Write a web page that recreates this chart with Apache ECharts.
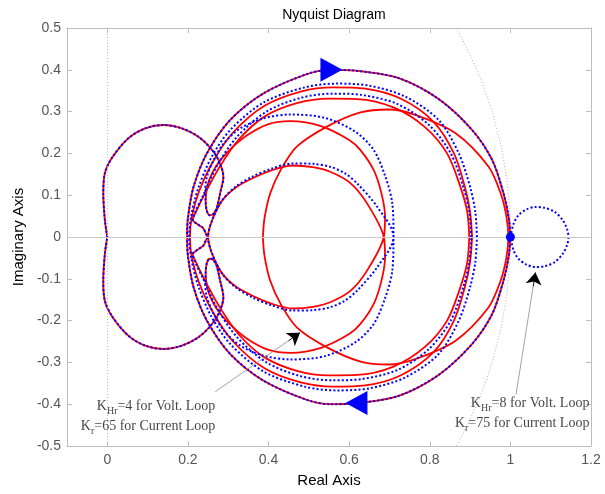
<!DOCTYPE html>
<html><head><meta charset="utf-8">
<script src="https://cdn.jsdelivr.net/npm/echarts@6/dist/echarts.min.js"></script>
<style>html,body{margin:0;padding:0;background:#fff}#c{width:605px;height:494px}</style>
</head><body><div id="c"></div>
<script>
// ---- tick labels ----
const xTicks = [0, 0.2, 0.4, 0.6, 0.8, 1, 1.2];
const yTicks = [-0.5, -0.4, -0.3, -0.2, -0.1, 0, 0.1, 0.2, 0.3, 0.4, 0.5];

// ---- curves (Real, Imag) ----
// outer loop (shared by both responses)
const outerLoop = [[1.0,0],[0.996,0.045],[0.983,0.104],[0.955,0.184],[0.905,0.256],[0.822,0.33],[0.723,0.38],[0.615,0.398],[0.553,0.4],[0.496,0.39],[0.388,0.344],[0.305,0.28],[0.247,0.2],[0.214,0.12],[0.2,0.045],[0.198,0],
  [0.2,-0.045],[0.214,-0.12],[0.247,-0.2],[0.305,-0.28],[0.388,-0.344],[0.496,-0.39],[0.553,-0.4],[0.615,-0.398],[0.723,-0.38],[0.822,-0.33],[0.905,-0.256],[0.955,-0.184],[0.983,-0.104],[0.996,-0.045],[1.0,0]];

// left "bean" lobe with its narrow tip (shared)
const beanUpper = [[0,0],[-0.006,0.04],[-0.01,0.105],[-0.006,0.153],[0.012,0.19],[0.052,0.236],[0.094,0.26],[0.139,0.268],[0.185,0.26],[0.226,0.24],[0.256,0.213],[0.276,0.184],[0.288,0.144],[0.28,0.105],[0.271,0.068],[0.262,0.054],[0.254,0.052],[0.247,0.062],[0.244,0.085]];
const beanLower = [[0.244,-0.085],[0.247,-0.062],[0.254,-0.052],[0.262,-0.054],[0.271,-0.068],[0.28,-0.105],[0.288,-0.144],[0.276,-0.184],[0.256,-0.213],[0.226,-0.24],[0.185,-0.26],[0.139,-0.268],[0.094,-0.26],[0.052,-0.236],[0.012,-0.19],[-0.006,-0.153],[-0.01,-0.105],[-0.006,-0.04],[0,0]];

// red (solid) response
const redB = [[0.905,0],[0.9,0.06],[0.887,0.12],[0.86,0.2],[0.81,0.275],[0.73,0.33],[0.64,0.355],[0.56,0.358],[0.48,0.348],[0.39,0.314],[0.312,0.25],[0.262,0.18],[0.228,0.11],[0.21,0.05],[0.205,0],
  [0.21,-0.05],[0.228,-0.11],[0.262,-0.18],[0.312,-0.25],[0.39,-0.314],[0.48,-0.348],[0.56,-0.358],[0.64,-0.355],[0.73,-0.33],[0.81,-0.275],[0.86,-0.2],[0.887,-0.12],[0.9,-0.06],[0.905,0]];
const redC = [[0.898,0],[0.893,0.06],[0.876,0.12],[0.843,0.2],[0.788,0.263],[0.71,0.31],[0.62,0.33],[0.55,0.331],[0.47,0.32],[0.39,0.288],[0.325,0.232],[0.277,0.165],[0.24,0.1],[0.22,0.06],[0.212,0.041],[0.226,0.029],[0.238,0.021],[0.246,0.005],[0.25,0],
  [0.246,-0.005],[0.238,-0.021],[0.226,-0.029],[0.212,-0.041],[0.22,-0.06],[0.24,-0.1],[0.277,-0.165],[0.325,-0.232],[0.39,-0.288],[0.47,-0.32],[0.55,-0.331],[0.62,-0.33],[0.71,-0.31],[0.788,-0.263],[0.843,-0.2],[0.876,-0.12],[0.893,-0.06],[0.898,0]];
const redD = [[0.386,0],[0.39,0.045],[0.404,0.104],[0.43,0.16],[0.47,0.216],[0.545,0.264],[0.628,0.298],[0.698,0.305],[0.764,0.292],[0.864,0.248],[0.946,0.168],[0.976,0.104],[0.99,0.05],[0.995,0],
  [0.99,-0.05],[0.976,-0.104],[0.946,-0.168],[0.864,-0.248],[0.764,-0.292],[0.698,-0.305],[0.628,-0.298],[0.545,-0.264],[0.47,-0.216],[0.43,-0.16],[0.404,-0.104],[0.39,-0.045],[0.386,0]];
const redEUpper = [[0.246,0.11],[0.252,0.135],[0.27,0.17],[0.3,0.205],[0.345,0.242],[0.4,0.27],[0.455,0.277],[0.53,0.265],[0.6,0.232],[0.628,0.208],[0.661,0.16],[0.68,0.105],[0.689,0.049],[0.686,0]];
const redFLower = [[0.644,-0.081],[0.603,-0.129],[0.553,-0.156],[0.51,-0.167],[0.46,-0.171],[0.409,-0.16],[0.359,-0.14],[0.318,-0.118],[0.285,-0.087],[0.26,-0.04],[0.25,0]];
const redFUpper = [[0.26,0.04],[0.285,0.087],[0.318,0.118],[0.359,0.14],[0.409,0.16],[0.46,0.171],[0.51,0.167],[0.553,0.156],[0.603,0.129],[0.644,0.081],[0.686,0]];
const redELower = [[0.689,-0.049],[0.68,-0.105],[0.661,-0.16],[0.628,-0.208],[0.6,-0.232],[0.53,-0.265],[0.455,-0.277],[0.4,-0.27],[0.345,-0.242],[0.3,-0.205],[0.27,-0.17],[0.252,-0.135],[0.246,-0.11]];

// blue (dotted) response
const blueB = [[0.917,0],[0.913,0.06],[0.9,0.12],[0.872,0.2],[0.822,0.28],[0.739,0.336],[0.65,0.362],[0.57,0.367],[0.49,0.358],[0.388,0.322],[0.305,0.256],[0.258,0.19],[0.225,0.115],[0.208,0.05],[0.203,0],
  [0.208,-0.05],[0.225,-0.115],[0.258,-0.19],[0.305,-0.256],[0.388,-0.322],[0.49,-0.358],[0.57,-0.367],[0.65,-0.362],[0.739,-0.336],[0.822,-0.28],[0.872,-0.2],[0.9,-0.12],[0.913,-0.06],[0.917,0]];
const blueC = [[0.903,0],[0.898,0.06],[0.883,0.12],[0.852,0.2],[0.798,0.268],[0.72,0.318],[0.63,0.34],[0.56,0.343],[0.48,0.333],[0.395,0.3],[0.322,0.24],[0.272,0.17],[0.238,0.1],[0.218,0.06],[0.212,0.041],[0.226,0.029],[0.238,0.021],[0.246,0.005],[0.25,0],
  [0.246,-0.005],[0.238,-0.021],[0.226,-0.029],[0.212,-0.041],[0.218,-0.06],[0.238,-0.1],[0.272,-0.17],[0.322,-0.24],[0.395,-0.3],[0.48,-0.333],[0.56,-0.343],[0.63,-0.34],[0.72,-0.318],[0.798,-0.268],[0.852,-0.2],[0.883,-0.12],[0.898,-0.06],[0.903,0]];
const blueEUpper = [[0.243,0.11],[0.247,0.144],[0.264,0.184],[0.289,0.224],[0.33,0.26],[0.388,0.284],[0.454,0.293],[0.54,0.285],[0.615,0.252],[0.661,0.208],[0.69,0.144],[0.707,0.081],[0.71,0]];
const blueFLower = [[0.669,-0.073],[0.62,-0.128],[0.59,-0.152],[0.553,-0.168],[0.51,-0.175],[0.46,-0.176],[0.409,-0.164],[0.359,-0.144],[0.318,-0.12],[0.285,-0.088],[0.26,-0.04],[0.25,0]];
const blueFUpper = [[0.26,0.04],[0.285,0.088],[0.318,0.12],[0.359,0.144],[0.409,0.164],[0.46,0.176],[0.51,0.175],[0.553,0.168],[0.59,0.152],[0.62,0.128],[0.669,0.073],[0.71,0]];
const blueELower = [[0.707,-0.081],[0.69,-0.144],[0.661,-0.208],[0.615,-0.252],[0.54,-0.285],[0.454,-0.293],[0.388,-0.284],[0.33,-0.26],[0.289,-0.224],[0.264,-0.184],[0.247,-0.144],[0.243,-0.11]];
const blueSmall = [[1.0,0],[1.008,0.032],[1.02,0.052],[1.04,0.066],[1.062,0.072],[1.085,0.07],[1.11,0.06],[1.13,0.04],[1.141,0.018],[1.144,0],[1.141,-0.018],[1.13,-0.04],[1.11,-0.06],[1.085,-0.07],[1.062,-0.072],[1.04,-0.066],[1.02,-0.052],[1.008,-0.032],[1.0,0]];

// unit-circle grid arc (dotted)
const unitArc = [[0.866,0.5],[0.906,0.423],[0.94,0.342],[0.966,0.259],[0.985,0.174],[0.996,0.087],[1,0],[0.996,-0.087],[0.985,-0.174],[0.966,-0.259],[0.94,-0.342],[0.906,-0.423],[0.866,-0.5]];

// markers
const criticalPoint = [[1, 0]];
const arrowRight = [[0.556, 0.4]];
const arrowLeft = [[0.618, -0.397]];

// annotations
const noteLeft = {pos: [0.268, -0.43], kh: 'Hr', khv: '4', kr: '65'};
const noteRight = {pos: [1.196, -0.421], kh: 'Hr', khv: '8', kr: '75'};
const pointerLeft = [[0.268, -0.37], [0.478, -0.229]];
const pointerRight = [[1.014, -0.377], [1.062, -0.085]];
const headLeft = [[0.45, -0.248], [0.478, -0.229]];
const headRight = [[1.057, -0.118], [1.062, -0.085]];

const redInner = [].concat(beanUpper, redEUpper, redFLower, redFUpper, redELower, beanLower);
const blueInner = [].concat(beanUpper, blueEUpper, blueFLower, blueFUpper, blueELower, beanLower);

const RED = '#ff0000', BLUE = '#0000ff';
const frame = '#bdbdbd';
const fmt = v => String(Math.round(v * 10) / 10);

function redLine(d) {
  return {type: 'line', data: d, showSymbol: false, smooth: 0.3, silent: true, z: 3,
    lineStyle: {color: RED, width: 1.8}};
}
function blueLine(d) {
  return {type: 'line', data: d, showSymbol: false, smooth: 0.3, silent: true, z: 4,
    lineStyle: {color: BLUE, width: 2, type: [2, 2.2], cap: 'butt'}};
}
function note(n) {
  return '{t|K}{s|' + n.kh + '}{t|=' + n.khv + ' for Volt. Loop}\n{t|K}{s|r}{t|=' + n.kr + ' for Current Loop}';
}
const rich = {
  t: {fontFamily: 'Liberation Serif', fontSize: 14, color: '#111', lineHeight: 20},
  s: {fontFamily: 'Liberation Serif', fontSize: 10, color: '#111', lineHeight: 9, verticalAlign: 'bottom'}
};

const axisCommon = {
  type: 'value', splitLine: {show: false},
  axisLine: {show: true, onZero: false, lineStyle: {color: frame, width: 1}},
};

const chart = echarts.init(document.getElementById('c'), null, {renderer: 'canvas'});
chart.setOption({
  animation: false,
  backgroundColor: '#fff',
  title: {text: 'Nyquist Diagram', left: 329, top: 3, textAlign: 'center',
    textStyle: {fontFamily: 'Liberation Sans', fontSize: 14, fontWeight: 'normal', color: '#000'}},
  grid: {left: 67, right: 14, top: 28, bottom: 48, containLabel: false},
  xAxis: [
    Object.assign({}, axisCommon, {position: 'bottom', min: -0.1, max: 1.2,
      name: 'Real Axis', nameLocation: 'middle', nameGap: 27,
      nameTextStyle: {fontFamily: 'Liberation Sans', fontSize: 15, color: '#000'},
      axisTick: {show: true, inside: true, length: 5, customValues: xTicks, lineStyle: {color: frame}},
      axisLabel: {customValues: xTicks, formatter: fmt, margin: 7, fontFamily: 'Liberation Sans', fontSize: 14, color: '#555'}}),
    Object.assign({}, axisCommon, {position: 'top', min: -0.1, max: 1.2,
      axisTick: {show: true, inside: true, length: 5, customValues: xTicks, lineStyle: {color: frame}},
      axisLabel: {show: false}})
  ],
  yAxis: [
    Object.assign({}, axisCommon, {position: 'left', min: -0.5, max: 0.5,
      name: 'Imaginary Axis', nameLocation: 'middle', nameGap: 40,
      nameTextStyle: {fontFamily: 'Liberation Sans', fontSize: 15, color: '#000'},
      axisTick: {show: true, inside: true, length: 5, customValues: yTicks, lineStyle: {color: frame}},
      axisLabel: {customValues: yTicks, formatter: fmt, margin: 6, fontFamily: 'Liberation Sans', fontSize: 14, color: '#555'}}),
    Object.assign({}, axisCommon, {position: 'right', min: -0.5, max: 0.5,
      axisTick: {show: true, inside: true, length: 5, customValues: yTicks, lineStyle: {color: frame}},
      axisLabel: {show: false}})
  ],
  series: [
    // grid lines: real and imaginary axes
    {type: 'line', data: [], silent: true, z: 1,
      markLine: {silent: true, symbol: ['none', 'none'], label: {show: false}, animation: false,
        data: [
          {yAxis: 0, lineStyle: {color: '#c8c8c8', width: 1, type: 'solid'}},
          {xAxis: 0, lineStyle: {color: '#c0c0c0', width: 1, type: [1, 2]}}
        ]}},
    {type: 'line', data: unitArc, showSymbol: false, smooth: true, silent: true, z: 1,
      lineStyle: {color: '#b0b0b0', width: 1, type: [1, 2]}},
    redLine(outerLoop), redLine(redB), redLine(redC), redLine(redD), redLine(redInner),
    blueLine(outerLoop), blueLine(blueB), blueLine(blueC), blueLine(blueInner), blueLine(blueSmall),
    {type: 'scatter', data: criticalPoint, symbol: 'circle', symbolSize: 9, z: 6, silent: true,
      itemStyle: {color: BLUE, opacity: 1}},
    {type: 'scatter', data: arrowRight, symbol: 'triangle', symbolSize: [24, 22], symbolRotate: -90, z: 6, silent: true,
      itemStyle: {color: BLUE, opacity: 1}},
    {type: 'scatter', data: arrowLeft, symbol: 'triangle', symbolSize: [24, 22], symbolRotate: 90, z: 6, silent: true,
      itemStyle: {color: BLUE, opacity: 1}},
    // annotation pointers: thin grey shaft, black head
    {type: 'lines', coordinateSystem: 'cartesian2d', z: 5, silent: true,
      symbol: ['none', 'none'],
      lineStyle: {color: '#8a8a8a', width: 0.8, opacity: 1},
      data: [{coords: pointerLeft}, {coords: pointerRight}]},
    {type: 'lines', coordinateSystem: 'cartesian2d', z: 6, silent: true,
      symbol: ['none', 'arrow'], symbolSize: [7, 12],
      lineStyle: {color: '#000', width: 0.8, opacity: 1},
      data: [{coords: headLeft}, {coords: headRight}]},
    // annotation texts
    {type: 'scatter', data: [noteLeft.pos], symbolSize: 0, z: 6, silent: true,
      label: {show: true, position: 'left', distance: 0, align: 'right', formatter: note(noteLeft), rich: rich}},
    {type: 'scatter', data: [noteRight.pos], symbolSize: 0, z: 6, silent: true,
      label: {show: true, position: 'left', distance: 0, align: 'right', formatter: note(noteRight), rich: rich}}
  ]
});
</script>
</body></html>
